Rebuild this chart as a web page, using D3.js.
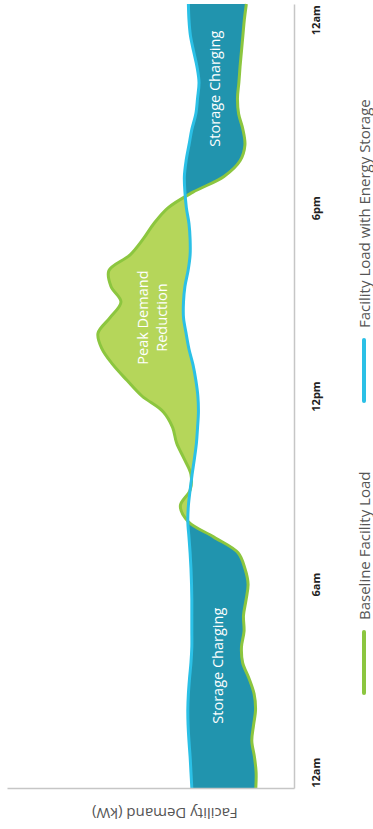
<!DOCTYPE html>
<html>
<head>
<meta charset="utf-8">
<script src="https://cdn.jsdelivr.net/npm/d3@7"></script>
<style>
  body { margin: 0; background: #fff; }
  svg { display: block; font-family: "Open Sans", sans-serif; }
</style>
</head>
<body>
<svg width="373" height="829"></svg>
<script>
// hours of the day, bottom (12am) to top (12am next day)
const hours = [-0.5, 0, 0.5, 1, 1.5, 2, 2.5, 3, 3.5, 4, 4.5, 5, 5.5, 6, 6.5, 7, 7.5, 8, 8.5, 9, 9.5,
  10, 10.5, 11, 11.5, 12, 12.5, 13, 13.5, 14, 14.5, 15, 15.5, 16, 16.5, 17, 17.5, 18, 18.5, 19, 19.5,
  20, 20.5, 21, 21.5, 22, 22.5, 23, 23.5, 24, 24.5];

// facility demand (kW)
const baseline = [133, 132, 138, 147, 141, 134, 139, 157, 179, 183, 174, 176, 167, 160, 171, 195, 279,
  369, 396, 362, 359, 383, 409, 423, 456, 530, 582, 631, 669, 683, 641, 603, 638, 645, 571, 526, 488,
  439, 352, 244, 188, 171, 178, 193, 197, 192, 188, 183, 178, 173, 166];
const withStorage = [356, 359, 362, 366, 369, 370, 368, 364, 359, 356, 356, 356, 356, 357, 359, 362, 366,
  370, 368, 362, 355, 347, 340, 336, 333, 335, 342, 352, 366, 376, 385, 385, 380, 369, 362, 362, 366,
  375, 380, 382, 376, 366, 356, 342, 336, 331, 338, 350, 361, 366, 368];

const tickHours = [0, 6, 12, 18, 24];
const tickLabels = ['12am', '6am', '12pm', '6pm', '12am'];

const seriesNames = ['Baseline Facility Load', 'Facility Load with Energy Storage'];
const seriesColors = ['#8cc63f', '#2bc0e6'];

const data = hours.map((t, i) => ({ t, base: baseline[i], store: withStorage[i] }));

const svg = d3.select('svg');
const width = +svg.attr('width');

const axisX = 294;   // time axis (right)
const axisY = 788;   // demand axis (bottom)

const y = d3.scaleLinear().domain([-0.5, 24.5]).range([axisY, 4]);
const x = d3.scaleLinear().domain([0, 1000]).range([axisX, 7]);

const curve = d3.curveCatmullRom;
const defs = svg.append('defs');

defs.append('clipPath').attr('id', 'leftOfStorage')
  .append('path')
    .attr('d', d3.area().curve(curve).y(d => y(d.t)).x0(0).x1(d => x(d.store))(data));

defs.append('clipPath').attr('id', 'rightOfStorage')
  .append('path')
    .attr('d', d3.area().curve(curve).y(d => y(d.t)).x0(d => x(d.store)).x1(width)(data));

// peak demand reduction: baseline above storage load
svg.append('path')
    .attr('d', d3.area().curve(curve).y(d => y(d.t)).x0(d => x(d.base)).x1(width)(data))
    .attr('clip-path', 'url(#leftOfStorage)')
    .attr('fill', '#b5d65a');

// storage charging: storage load above baseline
svg.append('path')
    .attr('d', d3.area().curve(curve).y(d => y(d.t)).x0(0).x1(d => x(d.base))(data))
    .attr('clip-path', 'url(#rightOfStorage)')
    .attr('fill', '#2194ae');

svg.append('path')
    .attr('d', d3.line().curve(curve).y(d => y(d.t)).x(d => x(d.base))(data))
    .attr('fill', 'none')
    .attr('stroke', seriesColors[0])
    .attr('stroke-width', 3);

svg.append('path')
    .attr('d', d3.line().curve(curve).y(d => y(d.t)).x(d => x(d.store))(data))
    .attr('fill', 'none')
    .attr('stroke', seriesColors[1])
    .attr('stroke-width', 3);

// axes
const timeAxis = svg.append('g')
    .attr('transform', `translate(${axisX},0)`)
    .call(d3.axisRight(y).tickValues(tickHours).tickSize(0).tickSizeOuter(0)
      .tickFormat((d, i) => tickLabels[i]));
timeAxis.select('.domain').attr('stroke', '#c6c6c6').attr('stroke-width', 1.5);
timeAxis.selectAll('text')
    .attr('x', null).attr('dy', null)
    .attr('transform', 'translate(26,0) rotate(-90)')
    .attr('text-anchor', 'middle')
    .attr('fill', '#222')
    .style('font-family', '"Open Sans", sans-serif')
    .style('font-size', '11px')
    .style('font-weight', 'bold');

const demandAxis = svg.append('g')
    .attr('transform', `translate(0,${axisY})`)
    .call(d3.axisBottom(x).tickValues([]).tickSizeOuter(0));
demandAxis.select('.domain').attr('stroke', '#c6c6c6').attr('stroke-width', 1.5);

svg.append('text')
    .attr('transform', `translate(${x(450)},808) rotate(180)`)
    .attr('text-anchor', 'middle')
    .attr('fill', '#555')
    .style('font-size', '15px')
    .text('Facility Demand (kW)');

// area labels
const labels = [
  { t: 21.8, v: 275, lines: ['Storage Charging'] },
  { t: 3.4, v: 265, lines: ['Storage Charging'] },
  { t: 14.5, v: 493, lines: ['Peak Demand', 'Reduction'] }
];
labels.forEach(l => {
  const txt = svg.append('text')
      .attr('transform', `translate(${x(l.v)},${y(l.t)}) rotate(-90)`)
      .attr('text-anchor', 'middle')
      .attr('fill', '#fff')
      .style('font-size', '14.5px');
  l.lines.forEach((s, i) => {
    txt.append('tspan')
        .attr('x', 0)
        .attr('dy', i === 0 ? `${0.35 - (l.lines.length - 1) * 0.65}em` : '1.3em')
        .text(s);
  });
});

// legend
const legendStart = [632, 340];
legendStart.forEach((y0, i) => {
  svg.append('line')
      .attr('x1', 364).attr('x2', 364)
      .attr('y1', y0 + 61).attr('y2', y0)
      .attr('stroke', seriesColors[i])
      .attr('stroke-width', 4)
      .attr('stroke-linecap', 'round');
  svg.append('text')
      .attr('transform', `translate(370,${y0 - 12}) rotate(-90)`)
      .attr('fill', '#555')
      .style('font-size', '15px')
      .text(seriesNames[i]);
});
</script>
</body>
</html>
